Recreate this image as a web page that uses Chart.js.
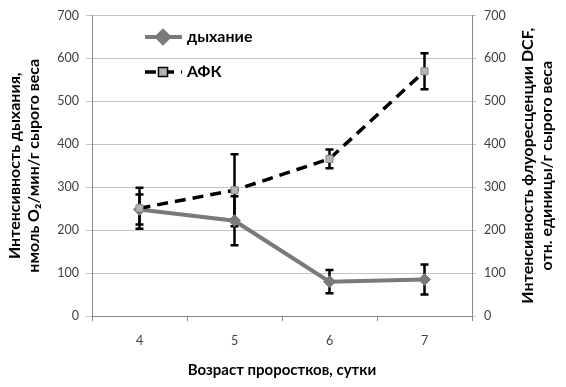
<!DOCTYPE html>
<html>
<head>
<meta charset="utf-8">
<script src="https://cdn.jsdelivr.net/npm/chart.js@4.4.1/dist/chart.umd.min.js"></script>
<style>
    body { margin: 0; background: #fff; }
</style>
</head>
<body>
<canvas id="chart" width="566" height="387"></canvas>
<script>
// data
const days = ['4', '5', '6', '7'];
const respiration = [248, 222, 80, 85];
const respirationErr = [35, 57, 27, 35];
const afk = [251, 293, 366, 570];
const afkErr = [48, 84, 22, 42];
const yTicks = [0, 100, 200, 300, 400, 500, 600, 700];

const leftTitle = ['Интенсивность дыхания,', 'нмоль O₂/мин/г сырого веса'];
const rightTitle = ['Интенсивность флуоресценции DCF,', 'отн. единицы/г сырого веса'];
const xTitle = 'Возраст проростков, сутки';

const FONT = 'Lato, "DejaVu Sans", sans-serif';

// error bars, drawn under the markers
const errorBars = {
    id: 'errorBars',
    beforeDatasetsDraw(chart) {
        const ctx = chart.ctx;
        const errs = [respirationErr, afkErr];
        ctx.save();
        ctx.strokeStyle = '#000';
        ctx.lineWidth = 2.5;
        chart.data.datasets.forEach((ds, di) => {
            const meta = chart.getDatasetMeta(di);
            const scale = chart.scales[meta.yAxisID];
            meta.data.forEach((pt, i) => {
                const top = scale.getPixelForValue(ds.data[i] + errs[di][i]);
                const bot = scale.getPixelForValue(ds.data[i] - errs[di][i]);
                ctx.beginPath();
                ctx.moveTo(pt.x, top); ctx.lineTo(pt.x, bot);
                ctx.moveTo(pt.x - 4, top); ctx.lineTo(pt.x + 4, top);
                ctx.moveTo(pt.x - 4, bot); ctx.lineTo(pt.x + 4, bot);
                ctx.stroke();
            });
        });
        ctx.restore();
    }
};

// legend inside the plot + right title reading bottom to top
const extras = {
    id: 'extras',
    afterDraw(chart) {
        const ctx = chart.ctx;
        const area = chart.chartArea;
        ctx.save();

        // legend
        const rows = [
            { ds: chart.data.datasets[0], y: 37 },
            { ds: chart.data.datasets[1], y: 72 }
        ];
        rows.forEach(r => {
            ctx.save();
            ctx.strokeStyle = r.ds.borderColor;
            ctx.lineWidth = r.ds.borderWidth;
            ctx.setLineDash(r.ds.borderDash || []);
            ctx.beginPath();
            ctx.moveTo(145, r.y); ctx.lineTo(182, r.y);
            ctx.stroke();
            ctx.setLineDash([]);
            Chart.helpers.drawPoint(ctx, {
                pointStyle: r.ds.pointStyle,
                radius: r.ds.pointRadius,
                borderWidth: r.ds.pointBorderWidth
            }, 163, r.y);
            ctx.fillStyle = r.ds.pointBackgroundColor;
            ctx.strokeStyle = r.ds.pointBorderColor;
            ctx.lineWidth = r.ds.pointBorderWidth;
            ctx.fill();
            ctx.stroke();
            ctx.restore();
            ctx.fillStyle = '#000';
            ctx.font = 'bold 16px ' + FONT;
            ctx.textBaseline = 'middle';
            ctx.textAlign = 'left';
            ctx.fillText(r.ds.label, 187, r.y);
        });

        // right axis title
        const cy = (area.top + area.bottom) / 2;
        ctx.font = 'bold 16px ' + FONT;
        ctx.fillStyle = '#000';
        ctx.textAlign = 'center';
        ctx.textBaseline = 'middle';
        [528, 547].forEach((x, i) => {
            ctx.save();
            ctx.translate(x, cy);
            ctx.rotate(-Math.PI / 2);
            ctx.fillText(rightTitle[i], 0, 0);
            ctx.restore();
        });
        ctx.restore();
    }
};

new Chart(document.getElementById('chart').getContext('2d'), {
    type: 'line',
    data: {
        labels: days,
        datasets: [
            {
                label: 'дыхание',
                data: respiration,
                yAxisID: 'y',
                order: 1,
                borderColor: '#7a7a7a',
                borderWidth: 4,
                pointStyle: 'rectRot',
                pointRadius: 6,
                pointBackgroundColor: '#7a7a7a',
                pointBorderColor: '#7a7a7a',
                pointBorderWidth: 1,
                tension: 0
            },
            {
                label: 'АФК',
                data: afk,
                yAxisID: 'y2',
                order: 0,
                borderColor: '#000',
                borderWidth: 3.5,
                borderDash: [11, 7],
                pointStyle: 'rect',
                pointRadius: 5,
                pointBackgroundColor: '#b4b4b4',
                pointBorderColor: '#8a8a8a',
                pointBorderWidth: 1,
                tension: 0
            }
        ]
    },
    options: {
        responsive: false,
        animation: false,
        layout: { padding: { top: 9.5, left: 0, right: 0, bottom: 0 } },
        plugins: {
            legend: { display: false },
            tooltip: { enabled: false }
        },
        scales: {
            x: {
                offset: true,
                grid: { offset: true, drawOnChartArea: false, tickLength: 5, color: '#868686' },
                border: { color: '#868686' },
                ticks: { color: '#404040', font: { family: FONT, size: 12.5 }, padding: 12 },
                title: {
                    display: true,
                    text: xTitle,
                    color: '#000',
                    font: { family: FONT, size: 15, weight: 'bold' },
                    padding: { top: 0, bottom: 8 }
                },
                afterFit: s => { s.height = 71; }
            },
            y: {
                position: 'left',
                min: 0,
                max: 700,
                afterBuildTicks: s => { s.ticks = yTicks.map(v => ({ value: v })); },
                grid: { color: '#c4c4c4', tickLength: 6 },
                border: { color: '#868686' },
                ticks: { color: '#404040', font: { family: FONT, size: 12.5 }, padding: 7 },
                title: {
                    display: true,
                    text: leftTitle,
                    color: '#000',
                    font: { family: FONT, size: 16, weight: 'bold' },
                    padding: { top: 5, bottom: 0 }
                },
                afterFit: s => { s.width = 92; }
            },
            y2: {
                position: 'right',
                min: 0,
                max: 700,
                afterBuildTicks: s => { s.ticks = yTicks.map(v => ({ value: v })); },
                grid: { drawOnChartArea: false, color: '#c4c4c4', tickLength: 4 },
                border: { color: '#868686' },
                ticks: { color: '#404040', font: { family: FONT, size: 12.5 }, padding: 8 },
                afterFit: s => { s.width = 94; }
            }
        }
    },
    plugins: [errorBars, extras]
});
</script>
</body>
</html>
